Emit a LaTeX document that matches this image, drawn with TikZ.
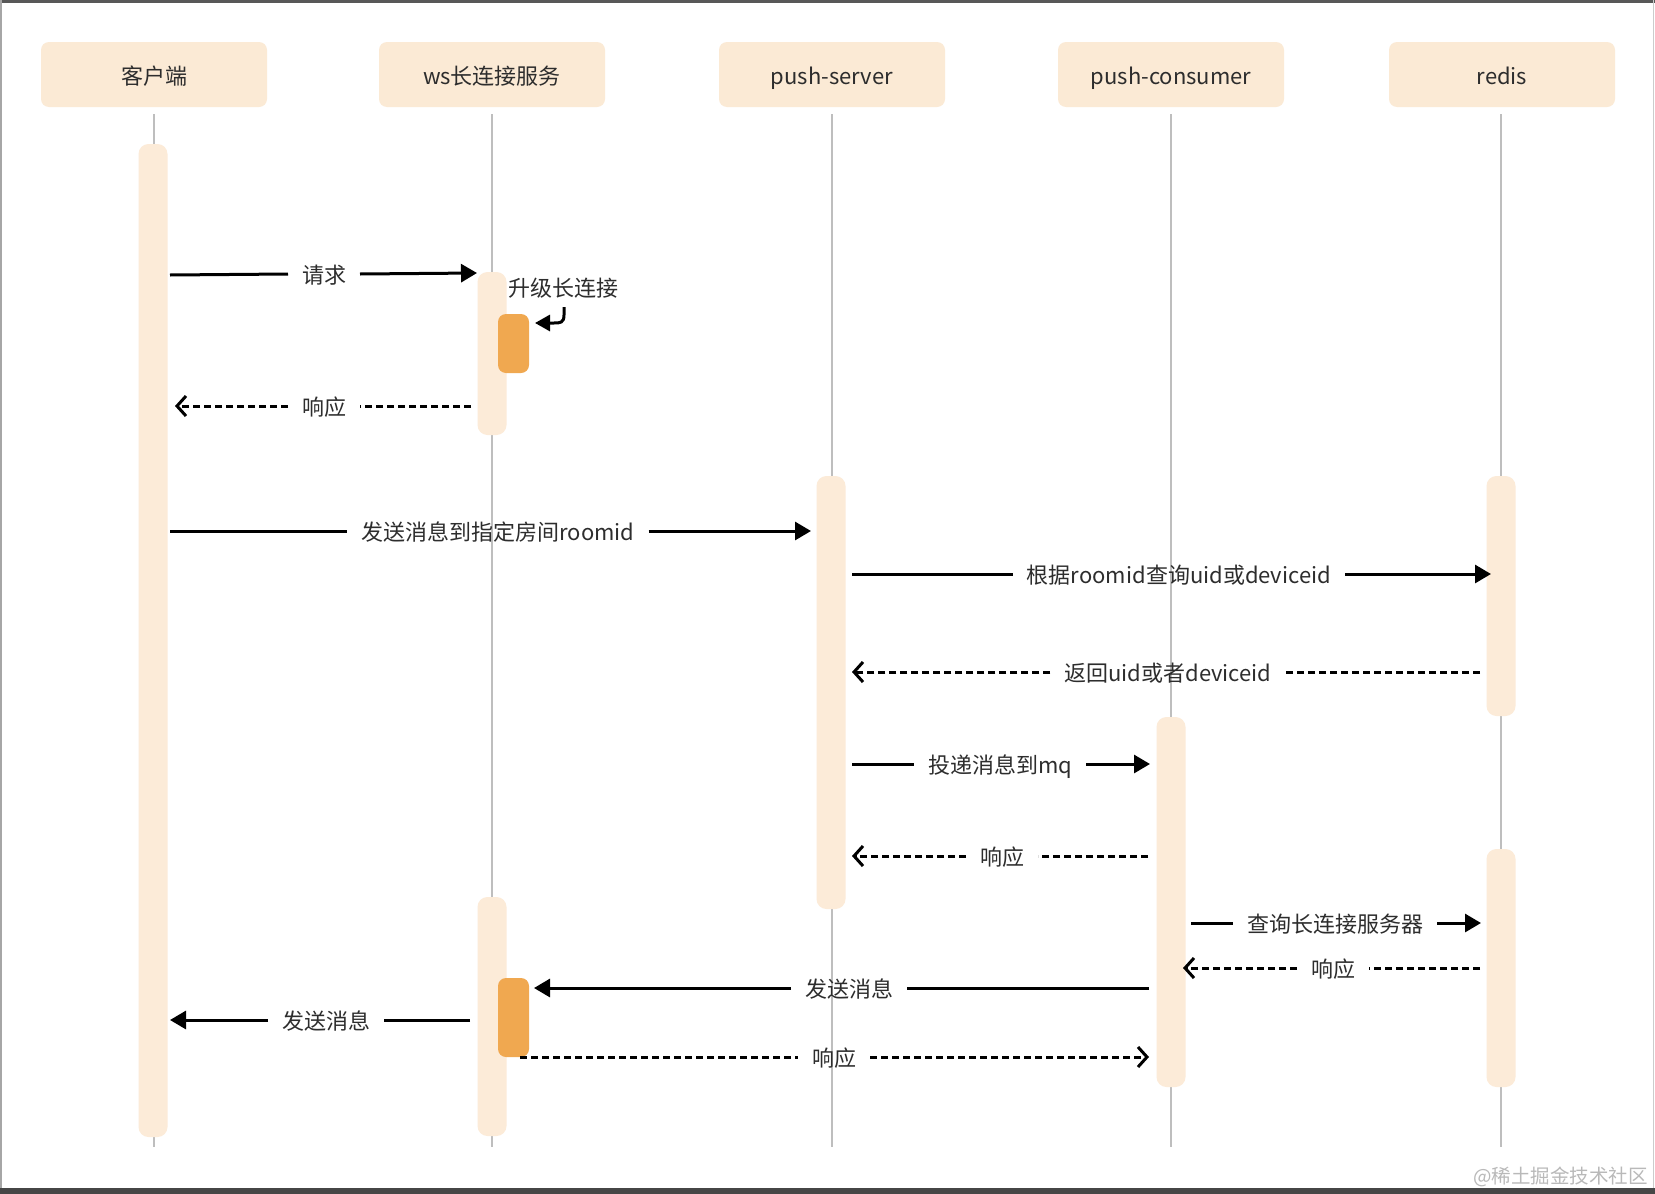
\documentclass[tikz,border=0pt]{standalone}
\usepackage{fontspec}
\setmainfont{Noto Sans CJK SC}
\usetikzlibrary{arrows.meta}
\definecolor{hdr}{RGB}{251,234,213}
\definecolor{actc}{RGB}{252,235,216}
\definecolor{orng}{RGB}{240,168,80}
\definecolor{life}{RGB}{190,190,190}
\definecolor{txt}{RGB}{45,45,45}
\definecolor{frame}{RGB}{70,70,70}
\begin{document}
\begin{tikzpicture}[x=1pt,y=-1pt,
  every node/.style={font=\fontsize{22}{26}\selectfont, text=txt},
  hdrbox/.style={fill=hdr, rounded corners=8pt, minimum width=226pt, minimum height=65pt, inner sep=0pt, outer sep=0pt, text height=20.3pt, text depth=0.7pt},
  actbar/.style={fill=actc, rounded corners=10pt, minimum width=29pt, inner sep=0pt, outer sep=0pt},
  orbar/.style={fill=orng, rounded corners=8pt, minimum width=31pt, inner sep=0pt, outer sep=0pt},
  lifeline/.style={draw=life, line width=2pt},
  lbl/.style={inner xsep=14pt, inner ysep=0pt, outer sep=0pt, text height=19.3pt, text depth=0.7pt},
  msg/.style={line width=3pt, draw=black},
  msgarrow/.style={msg, -{Triangle[length=16pt,width=18pt]}},
  rsp/.style={line width=3pt, draw=black, dash pattern=on 7pt off 4pt},
  rsparrow/.style={rsp, -{Straight Barb[length=9pt,width=20pt,line width=3pt]}},
]
\useasboundingbox (0,0) rectangle (1655,1194);
\fill[white] (0,0) rectangle (1655,1194);
% frame
\fill[frame] (0,1188) rectangle (1655,1194);
\fill[frame!90] (0,0) rectangle (1655,2.5);
\draw[gray!70, line width=1.5pt] (0.75,0) -- (0.75,1188);
\draw[gray!40, line width=1pt] (1653.5,0) -- (1653.5,1188);

% headers
\node[hdrbox] (h1) at (154,74.5) {客户端};
\node[hdrbox] (h2) at (492,74.5) {ws长连接服务};
\node[hdrbox] (h3) at (832,74.5) {push-server};
\node[hdrbox] (h4) at (1171,74.5) {push-consumer};
\node[hdrbox] (h5) at (1502,74.5) {redis};

% lifelines
\foreach \n/\x in {1/154,2/492,3/832,4/1171,5/1501}{
  \coordinate (lt\n) at (\x,114);
  \coordinate (lb\n) at (\x,1147);
  \draw[lifeline] (lt\n) -- (lb\n);
}

% activation bars
\node[actbar, minimum height=993pt] (a1) at (153,640.5) {};
\node[actbar, minimum height=163pt] (a2) at (492,353.5) {};
\node[orbar, minimum height=59pt] (o1) at (513.5,343.5) {};
\node[actbar, minimum height=433pt] (a3) at (831,692.5) {};
\node[actbar, minimum height=240pt] (a5) at (1501,596) {};
\node[actbar, minimum height=370pt] (a4) at (1171,902) {};
\node[actbar, minimum height=238pt] (a6) at (1501,968) {};
\node[actbar, minimum height=239pt] (a7) at (492,1016.5) {};
\node[orbar, minimum height=79pt] (o2) at (513.5,1017.5) {};

% 1 请求
\node[lbl] (m1) at (324,274) {请求};
\coordinate (m1s) at (170,275); \coordinate (m1e) at (477,273);
\draw[msg] (m1s) -- (m1.west); \draw[msgarrow] (m1.east) -- (m1e);

% self: 升级长连接
\node[inner sep=0pt] (m2) at (563,288) {升级长连接};
\coordinate (s1) at (564,307); \coordinate (s2) at (535,323);
\draw[line width=3pt, -{Triangle[length=15pt,width=16pt]}] (s1) -- (564,315) .. controls (564,323) and (560,323) .. (554,323) -- (s2);

% 3 响应
\node[lbl] (m3) at (324,406) {响应};
\coordinate (m3s) at (471,406); \coordinate (m3e) at (175,406);
\draw[rsp] (m3s) -- (m3.east); \draw[rsparrow] (m3.west) -- (m3e);

% 4 发送消息到指定房间roomid
\node[lbl] (m4) at (498,531) {发送消息到指定房间roomid};
\coordinate (m4s) at (170,531); \coordinate (m4e) at (811,531);
\draw[msg] (m4s) -- (m4.west); \draw[msgarrow] (m4.east) -- (m4e);

% 5 根据roomid查询uid或deviceid
\node[lbl] (m5) at (1179,574) {根据roomid查询uid或deviceid};
\coordinate (m5s) at (852,574); \coordinate (m5e) at (1491,574);
\draw[msg] (m5s) -- (m5.west); \draw[msgarrow] (m5.east) -- (m5e);

% 6 返回uid或者deviceid
\node[lbl] (m6) at (1168,672) {返回uid或者deviceid};
\coordinate (m6s) at (1480,672); \coordinate (m6e) at (852,672);
\draw[rsp] (m6s) -- (m6.east); \draw[rsparrow] (m6.west) -- (m6e);

% 7 投递消息到mq
\node[lbl] (m7) at (1000,764) {投递消息到mq};
\coordinate (m7s) at (852,764); \coordinate (m7e) at (1150,764);
\draw[msg] (m7s) -- (m7.west); \draw[msgarrow] (m7.east) -- (m7e);

% 8 响应
\node[lbl] (m8) at (1002,856) {响应};
\coordinate (m8s) at (1148,856); \coordinate (m8e) at (852,856);
\draw[rsp] (m8s) -- (m8.east); \draw[rsparrow] (m8.west) -- (m8e);

% 9 查询长连接服务器
\node[lbl] (m9) at (1335,923) {查询长连接服务器};
\coordinate (m9s) at (1191,923); \coordinate (m9e) at (1481,923);
\draw[msg] (m9s) -- (m9.west); \draw[msgarrow] (m9.east) -- (m9e);

% 10 响应
\node[lbl] (m10) at (1333,968) {响应};
\coordinate (m10s) at (1480,968); \coordinate (m10e) at (1183,968);
\draw[rsp] (m10s) -- (m10.east); \draw[rsparrow] (m10.west) -- (m10e);

% 11 发送消息 consumer -> ws
\node[lbl] (m11) at (849,988) {发送消息};
\coordinate (m11s) at (1149,988); \coordinate (m11e) at (534,988);
\draw[msg] (m11s) -- (m11.east); \draw[msgarrow] (m11.west) -- (m11e);

% 12 发送消息 ws -> client
\node[lbl] (m12) at (326,1020) {发送消息};
\coordinate (m12s) at (470,1020); \coordinate (m12e) at (170,1020);
\draw[msg] (m12s) -- (m12.east); \draw[msgarrow] (m12.west) -- (m12e);

% 13 响应 ws -> consumer
\node[lbl] (m13) at (834,1057) {响应};
\coordinate (m13s) at (520,1057); \coordinate (m13e) at (1149,1057);
\draw[rsp] (m13s) -- (m13.west); \draw[rsparrow] (m13.east) -- (m13e);

% watermark
\node[font=\fontsize{19.5}{20}\selectfont, text=gray!55, anchor=east, inner sep=0pt] (wm) at (1648,1177) {@稀土掘金技术社区};
\end{tikzpicture}
\end{document}
